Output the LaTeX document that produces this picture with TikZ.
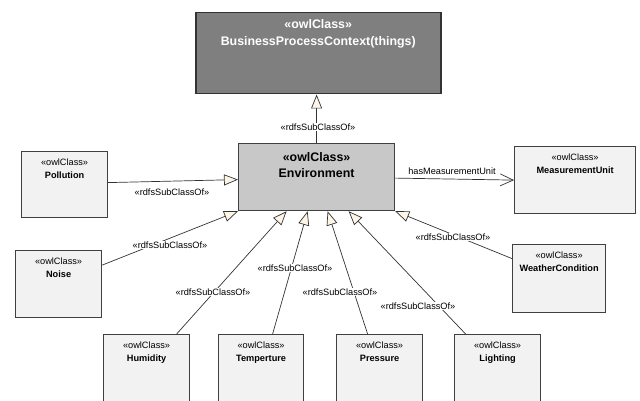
\documentclass[tikz,border=0pt]{standalone}
\usepackage{fontspec}
\setmainfont{Liberation Sans}
\usetikzlibrary{arrows.meta}
\definecolor{boxline}{HTML}{404040}
\definecolor{conn}{HTML}{333333}
\definecolor{cream}{HTML}{FDF5E6}
\definecolor{topfill}{HTML}{7F7F7F}
\definecolor{envfill}{HTML}{C8C8C8}
\definecolor{clsfill}{HTML}{F2F2F2}
\begin{document}
\begin{tikzpicture}[x=1pt,y=-1pt,
  cls/.style={draw=boxline, line width=1.2pt, fill=clsfill, anchor=north west, inner sep=0pt},
  st/.style={font=\fontsize{9.2}{11}\selectfont, text height=6.6pt, text depth=0pt, inner sep=0pt},
  nm/.style={font=\fontsize{9.2}{11}\selectfont\bfseries, text height=6.6pt, text depth=0pt, inner sep=0pt},
  big/.style={font=\fontsize{12.4}{14}\selectfont\bfseries, text height=8.9pt, text depth=0pt, inner sep=0pt},
  sub/.style={draw=conn, line width=0.7pt, -{Triangle[length=14pt,width=11pt,fill=cream]}},
  assoc/.style={draw=conn, line width=0.7pt, -{Straight Barb[length=13pt,width=12pt]}},
  lbl/.style={font=\fontsize{9.2}{11}\selectfont, fill=white, inner sep=1pt, text height=6.6pt, text depth=0pt},
  plainlbl/.style={font=\fontsize{9.2}{11}\selectfont, inner sep=1pt, text height=6.6pt, text depth=0pt}]
\useasboundingbox (0,0) rectangle (640,401);

% top class
\node[cls, fill=topfill, draw=black!80, line width=1.5pt, minimum width=245pt, minimum height=81pt] (top) at (195,12) {};
\node[big, text=white] (topS) at ([yshift=-12pt]top.north) {«owlClass»};
\node[big, text=white] (topN) at ([yshift=-29pt]top.north) {BusinessProcessContext(things)};

% environment
\node[cls, fill=envfill, minimum width=156pt, minimum height=67pt] (env) at (238,143) {};
\node[big] (envS) at ([yshift=-14pt]env.north) {«owlClass»};
\node[big] (envN) at ([yshift=-30pt]env.north) {Environment};

% small classes
\node[cls, minimum width=86pt, minimum height=66pt] (pol) at (21,151) {};
\node[st] (polS) at ([yshift=-11pt]pol.north) {«owlClass»};
\node[nm] (polN) at ([yshift=-24pt]pol.north) {Pollution};

\node[cls, minimum width=86pt, minimum height=67pt] (noise) at (15,250) {};
\node[st] (noiseS) at ([yshift=-11pt]noise.north) {«owlClass»};
\node[nm] (noiseN) at ([yshift=-24pt]noise.north) {Noise};

\node[cls, minimum width=121pt, minimum height=67pt] (meas) at (514,146) {};
\node[st] (measS) at ([yshift=-11pt]meas.north) {«owlClass»};
\node[nm] (measN) at ([yshift=-24pt]meas.north) {MeasurementUnit};

\node[cls, minimum width=93pt, minimum height=68pt] (weather) at (512,244) {};
\node[st] (weatherS) at ([yshift=-11pt]weather.north) {«owlClass»};
\node[nm] (weatherN) at ([yshift=-24pt]weather.north) {WeatherCondition};

\node[cls, minimum width=86pt, minimum height=80pt] (hum) at (103,334) {};
\node[st] (humS) at ([yshift=-11pt]hum.north) {«owlClass»};
\node[nm] (humN) at ([yshift=-24.5pt]hum.north) {Humidity};

\node[cls, minimum width=85pt, minimum height=80pt] (temp) at (218,334) {};
\node[st] (tempS) at ([yshift=-11pt]temp.north) {«owlClass»};
\node[nm] (tempN) at ([yshift=-24.5pt]temp.north) {Temperture};

\node[cls, minimum width=86pt, minimum height=80pt] (press) at (336,334) {};
\node[st] (pressS) at ([yshift=-11pt]press.north) {«owlClass»};
\node[nm] (pressN) at ([yshift=-24.5pt]press.north) {Pressure};

\node[cls, minimum width=86pt, minimum height=80pt] (light) at (454,334) {};
\node[st] (lightS) at ([yshift=-11pt]light.north) {«owlClass»};
\node[nm] (lightN) at ([yshift=-24.5pt]light.north) {Lighting};

% connectors
\draw[sub] (env.north) -- (env.north |- top.south) node[lbl] (l1) at (318,127) {«rdfsSubClassOf»};
\draw[sub] ([yshift=2pt]pol.east) -- ([yshift=-2.5pt]env.west) node[plainlbl] (l2) at (172,192) {«rdfsSubClassOf»};
\draw[sub] ([yshift=19pt]noise.east) -- (env.south west) node[lbl] (l3) at (170,245) {«rdfsSubClassOf»};
\draw[sub] ([xshift=30pt]hum.north) -- ([xshift=-30pt]env.south) node[lbl] (l4) at (213,292) {«rdfsSubClassOf»};
\draw[sub] ([xshift=11.5pt]temp.north) -- ([xshift=-9pt]env.south) node[lbl] (l5) at (295,268) {«rdfsSubClassOf»};
\draw[sub] ([xshift=-12pt]press.north) -- ([xshift=11pt]env.south) node[lbl] (l6) at (340,292) {«rdfsSubClassOf»};
\draw[sub] ([xshift=-32pt]light.north) -- ([xshift=32pt]env.south) node[lbl] (l7) at (418,306) {«rdfsSubClassOf»};
\draw[sub] ([yshift=20pt]weather.west) -- (env.south east) node[lbl] (l8) at (453,237) {«rdfsSubClassOf»};
\draw[assoc] ([yshift=-1pt]env.east) -- (meas.west) node[plainlbl] (l9) at (452,171) {hasMeasurementUnit};
\end{tikzpicture}
\end{document}
